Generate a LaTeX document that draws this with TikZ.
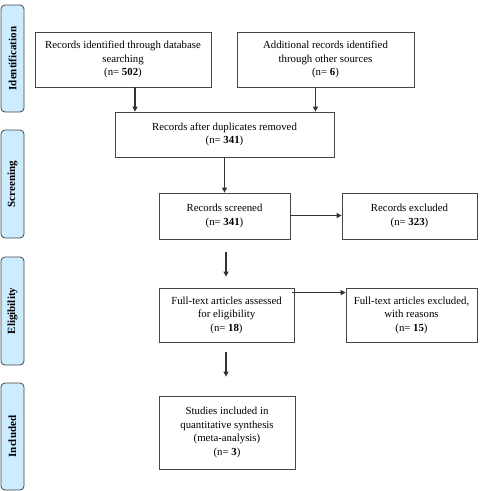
\documentclass[tikz,border=0pt]{standalone}
\usepackage{fontspec}
\setmainfont{Liberation Serif}
\usetikzlibrary{arrows.meta}
\definecolor{phaseblue}{RGB}{204,236,255}
\definecolor{linegray}{RGB}{70,70,70}
\begin{document}
\begin{tikzpicture}[x=1pt, y=-1pt, >={Triangle[length=5pt,width=5pt]},
  flow box/.style={rectangle, draw=linegray, line width=0.8pt, align=center, inner sep=0pt, font=\fontsize{10.8}{13.5}\selectfont},
  phase box/.style={rectangle, rounded corners=4pt, draw=linegray, fill=phaseblue, line width=0.8pt, minimum height=23pt, inner sep=0pt, rotate=90, font=\fontsize{11}{12}\selectfont\bfseries},
  flow arrow/.style={->, line width=1.1pt, draw=black!80}]
\useasboundingbox (0,0) rectangle (481,491);
\begin{scope}[every node/.style={phase box}]
\node[minimum width=107pt] (ident) at (12.5,58.5) {Identification};
\node[minimum width=108pt] (screen) at (12.5,184) {Screening};
\node[minimum width=108pt] (elig) at (12.5,311) {Eligibility};
\node[minimum width=107pt] (incl) at (12.5,436.5) {Included};
\end{scope}
\begin{scope}[every node/.style={flow box}]
\node[minimum width=176pt, minimum height=55pt] (db) at (123,59.5) {Records identified through database\\searching\\(n= \textbf{502})};
\node[minimum width=177pt, minimum height=55pt] (other) at (325.5,59.5) {Additional records identified\\through other sources\\(n= \textbf{6})};
\node[minimum width=219pt, minimum height=45pt] (dup) at (224.5,134.5) {Records after duplicates removed\\(n= \textbf{341})};
\node[minimum width=131pt, minimum height=46pt] (scr) at (224.5,216) {Records screened\\(n= \textbf{341})};
\node[minimum width=135pt, minimum height=46pt] (excl) at (409.5,216) {Records excluded\\(n= \textbf{323})};
\node[minimum width=135pt, minimum height=54pt] (ft) at (226.5,315) {Full-text articles assessed\\for eligibility\\(n= \textbf{18})};
\node[minimum width=131pt, minimum height=54pt] (ftx) at (411.5,315) {Full-text articles excluded,\\with reasons\\(n= \textbf{15})};
\node[minimum width=136pt, minimum height=73pt] (syn) at (227,432.5) {Studies included in\\quantitative synthesis\\(meta-analysis)\\(n= \textbf{3})};
\end{scope}
\begin{scope}[every path/.style={flow arrow}]
\draw ([xshift=12pt]db.south) -- ([xshift=12pt]db.south |- dup.north);
\draw ([xshift=-10pt]other.south) -- ([xshift=-10pt]other.south |- dup.north);
\draw (dup.south) -- (dup.south |- scr.north);
\draw ([yshift=0.5pt]scr.east) -- ([yshift=0.5pt]excl.west);
\draw ([xshift=1.5pt,yshift=-13pt]scr.south) -- ([xshift=-0.5pt,yshift=11pt]ft.north);
\draw ([xshift=-2pt,yshift=-5pt]ft.north east) -- ([yshift=-5pt]ftx.north west);
\draw ([xshift=-0.5pt,yshift=-10pt]ft.south) -- ([xshift=-1pt,yshift=19pt]syn.north);
\end{scope}
\end{tikzpicture}
\end{document}
